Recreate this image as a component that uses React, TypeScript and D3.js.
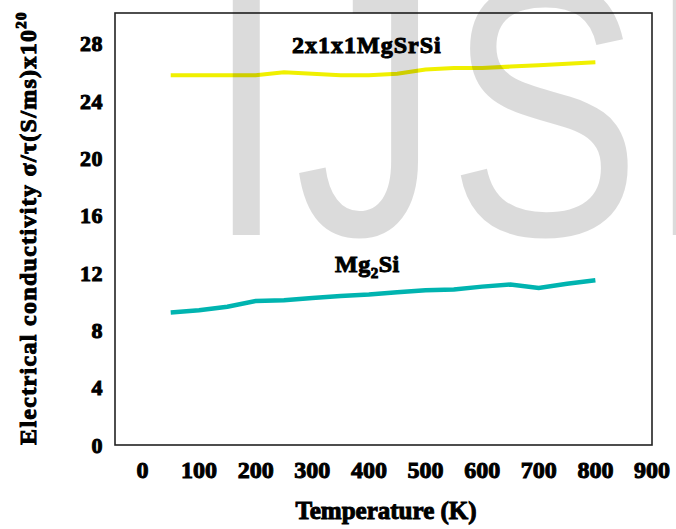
import React from "react";
import * as d3 from "d3";

// temperature (K) and conductivity values
const temps = [50, 100, 150, 200, 250, 300, 350, 400, 450, 500, 550, 600, 650, 700, 750, 800];
const mgSrSi = [25.8, 25.8, 25.8, 25.8, 26.0, 25.9, 25.8, 25.8, 25.9, 26.2, 26.3, 26.3, 26.4, 26.5, 26.6, 26.7];
const mg2Si = [9.25, 9.4, 9.65, 10.05, 10.1, 10.25, 10.4, 10.5, 10.65, 10.8, 10.85, 11.05, 11.2, 10.95, 11.25, 11.5];
const xTicks = [0, 100, 200, 300, 400, 500, 600, 700, 800, 900];
const yTicks = [0, 4, 8, 12, 16, 20, 24, 28];

const W = 676, H = 529;
const frame = { left: 115, right: 652, top: 13, bottom: 445 };
const serif = "'Liberation Serif', 'DejaVu Serif', serif";

const App = () => {
  const x = d3.scaleLinear().domain([0, 900]).range([142.4, 652]);
  const y = d3.scaleLinear().domain([0, 30]).range([445, 15]);

  const line = d3.line<number>()
    .x((d, i) => x(temps[i]))
    .y((d) => y(d));

  const bold = { fontFamily: serif, fontWeight: 700, fill: "#000", stroke: "#000", strokeWidth: 1 };

  return (
    <svg width={W} height={H} style={{ position: "absolute", left: 0, top: 0, background: "#fff" }}>
      <rect x={frame.left} y={frame.top} width={frame.right - frame.left} height={frame.bottom - frame.top}
        fill="none" stroke="#222" strokeWidth={1.6} />

      <path d={line(mgSrSi) || ""} fill="none" stroke="#f0f000" strokeWidth={4} />
      <path d={line(mg2Si) || ""} fill="none" stroke="#00b4b0" strokeWidth={4.5} />

      {yTicks.map((t) => (
        <text key={t} x={103} y={y(t)} dy="0.35em" textAnchor="end" fontSize={22} letterSpacing={0.5} {...bold}>{t}</text>
      ))}
      {xTicks.map((t) => (
        <text key={t} x={x(t)} y={478} textAnchor="middle" fontSize={24} {...bold}>{t}</text>
      ))}

      <text x={292} y={53} fontSize={24} letterSpacing={1} {...bold}>2x1x1MgSrSi</text>
      <text x={335} y={272} fontSize={24} letterSpacing={0.5} {...bold}>
        Mg<tspan fontSize={15} dy={6}>2</tspan><tspan dy={-6}>Si</tspan>
      </text>

      <text x={386} y={519} textAnchor="middle" fontSize={25} {...bold}>Temperature (K)</text>
      <text transform="translate(36,228) rotate(-90)" textAnchor="middle" fontSize={24} letterSpacing={1.3} {...bold}>
        Electrical conductivity σ/τ(S/ms)x10<tspan fontSize={15} dy={-10}>20</tspan>
      </text>

      {/* faint watermark laid over the chart */}
      <text transform="translate(206,235) scale(1,1.25)" fontFamily="'Liberation Sans', Arial, sans-serif"
        fontSize={290} fill="#000" fillOpacity={0.14} letterSpacing={8}>IJSER</text>
    </svg>
  );
};

export default App;
